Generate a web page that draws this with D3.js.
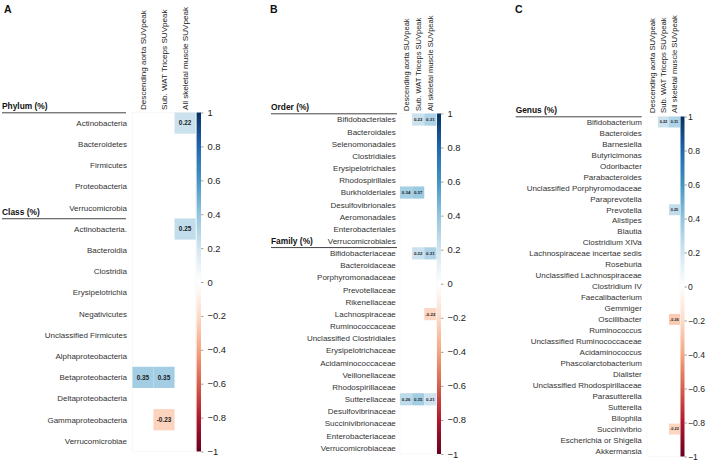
<!DOCTYPE html>
<html><head><meta charset="utf-8">
<script src="https://cdn.jsdelivr.net/npm/d3@7"></script>
<style>
body{margin:0;background:#fff;}
text{font-family:"Liberation Sans",Arial,Helvetica,sans-serif;}
</style></head>
<body>
<svg id="chart" width="708" height="462"></svg>
<script>
// ---------- DATA ----------
const columns = ["Descending aorta SUVpeak", "Sub. WAT Triceps SUVpeak", "All skeletal muscle SUVpeak"];

const phylumRows = ["Actinobacteria", "Bacteroidetes", "Firmicutes", "Proteobacteria", "Verrucomicrobia"];
const classRows = ["Actinobacteria.", "Bacteroidia", "Clostridia", "Erysipelotrichia", "Negativicutes",
  "Unclassified Firmicutes", "Alphaproteobacteria", "Betaproteobacteria", "Deltaproteobacteria",
  "Gammaproteobacteria", "Verrucomicrobiae"];
const orderRows = ["Bifidobacteriales", "Bacteroidales", "Selenomonadales", "Clostridiales", "Erysipelotrichales",
  "Rhodospirillales", "Burkholderiales", "Desulfovibrionales", "Aeromonadales", "Enterobacteriales", "Verrucomicrobiales"];
const familyRows = ["Bifidobacteriaceae", "Bacteroidaceae", "Porphyromonadaceae", "Prevotellaceae", "Rikenellaceae",
  "Lachnospiraceae", "Ruminococcaceae", "Unclassified Clostridiales", "Erysipelotrichaceae", "Acidaminococcaceae",
  "Veillonellaceae", "Rhodospirillaceae", "Sutterellaceae", "Desulfovibrinaceae", "Succinivibrionaceae",
  "Enterobacteriaceae", "Verrucomicrobiaceae"];
const genusRows = ["Bifidobacterium", "Bacteroides", "Barnesiella", "Butyricimonas", "Odoribacter", "Parabacteroides",
  "Unclassified Porphyromodaceae", "Paraprevotella", "Prevotella", "Alistipes", "Blautia", "Clostridium XIVa",
  "Lachnospiraceae incertae sedis", "Roseburia", "Unclassified Lachnospiraceae", "Clostridium IV", "Faecalibacterium",
  "Gemmiger", "Oscillibacter", "Ruminococcus", "Unclassified Ruminococcaceae", "Acidaminococcus",
  "Phascolarctobacterium", "Dialister", "Unclassified Rhodospirillaceae", "Parasutterella", "Sutterella", "Bilophila",
  "Succinivibrio", "Escherichia or Shigella", "Akkermansia"];

// significant correlations only (others blank): [row name, column index, r]
const panelAValues = [
  ["Actinobacteria", 2, 0.22],
  ["Actinobacteria.", 2, 0.25],
  ["Betaproteobacteria", 0, 0.35],
  ["Betaproteobacteria", 1, 0.35],
  ["Gammaproteobacteria", 1, -0.23]
];
const panelBValues = [
  ["Bifidobacteriales", 1, 0.22],
  ["Bifidobacteriales", 2, 0.31],
  ["Burkholderiales", 0, 0.34],
  ["Burkholderiales", 1, 0.37],
  ["Bifidobacteriaceae", 1, 0.22],
  ["Bifidobacteriaceae", 2, 0.31],
  ["Lachnospiraceae", 2, -0.22],
  ["Sutterellaceae", 0, 0.26],
  ["Sutterellaceae", 1, 0.35],
  ["Sutterellaceae", 2, 0.21]
];
const panelCValues = [
  ["Bifidobacterium", 1, 0.22],
  ["Bifidobacterium", 2, 0.31],
  ["Prevotella", 2, 0.25],
  ["Oscillibacter", 2, -0.26],
  ["Succinivibrio", 2, -0.22]
];
const colorbarTicks = [1, 0.8, 0.6, 0.4, 0.2, 0, -0.2, -0.4, -0.6, -0.8, -1];

// ---------- COLOR ----------
const stops = ["#67001F", "#B2182B", "#D6604D", "#F4A582", "#FDDBC7", "#FFFFFF",
               "#D1E5F0", "#92C5DE", "#4393C3", "#2166AC", "#053061"];
const color = d3.scaleLinear().domain(d3.range(11).map(i => -1 + i * 0.2)).range(stops).interpolate(d3.interpolateRgb);

const svg = d3.select("#chart");
const defs = svg.append("defs");
const grad = defs.append("linearGradient").attr("id", "cbar").attr("x1", 0).attr("y1", 0).attr("x2", 0).attr("y2", 1);
d3.range(0, 1.0001, 0.05).forEach(t => {
  grad.append("stop").attr("offset", t).attr("stop-color", color(1 - 2 * t));
});

function fmt(v) { return v < 0 ? "-" + Math.abs(v).toFixed(2) : v.toFixed(2); }

function panel(cfg) {
  const g = svg.append("g");
  const rows = cfg.groups.flatMap(gr => gr.rows);
  const y = d3.scaleBand().domain(rows).range([cfg.y0, cfg.y1]);
  const x = d3.scaleBand().domain(d3.range(columns.length)).range([cfg.x0, cfg.x1]);

  // panel letter
  g.append("text").attr("x", cfg.letterX).attr("y", 13).attr("font-size", 10.5)
    .attr("font-weight", "bold").attr("fill", "#111").text(cfg.letter);

  // column headers
  g.selectAll(".colh").data(columns).enter().append("text")
    .attr("transform", (d, i) => `translate(${x(i) + x.bandwidth() / 2},${cfg.headBottom}) rotate(-90)`)
    .attr("dy", "0.35em").attr("font-size", cfg.headSize).attr("fill", "#222").text(d => d);

  // blank cell background
  g.append("rect").attr("x", cfg.x0).attr("y", cfg.y0).attr("width", cfg.x1 - cfg.x0).attr("height", cfg.y1 - cfg.y0)
    .attr("fill", "#fff").attr("stroke", "#f3f3f3").attr("stroke-width", 0.6);

  // row labels
  g.selectAll(".rowl").data(rows).enter().append("text")
    .attr("x", cfg.labelX).attr("y", d => y(d) + y.bandwidth() / 2).attr("dy", "0.35em")
    .attr("text-anchor", "end").attr("font-size", 8).attr("fill", "#333").text(d => d);

  // group headings with underline
  cfg.groups.forEach(gr => {
    const top = y(gr.rows[0]);
    g.append("text").attr("x", cfg.headX).attr("y", top - 3.2).attr("font-size", 8.4)
      .attr("font-weight", "bold").attr("fill", "#111").text(gr.title);
    g.append("line").attr("x1", cfg.headX).attr("x2", cfg.lineX2).attr("y1", top + 0.3).attr("y2", top + 0.3)
      .attr("stroke", "#444").attr("stroke-width", 1);
  });

  // cells
  const cells = g.selectAll(".cell").data(cfg.values).enter().append("g");
  cells.append("rect").attr("x", d => x(d[1])).attr("y", d => y(d[0]))
    .attr("width", x.bandwidth()).attr("height", y.bandwidth()).attr("fill", d => color(d[2]));
  cells.append("text").attr("x", d => x(d[1]) + x.bandwidth() / 2).attr("y", d => y(d[0]) + y.bandwidth() / 2)
    .attr("dy", "0.35em").attr("text-anchor", "middle").attr("font-size", cfg.cellFont)
    .attr("font-weight", "bold").attr("fill", "#222").text(d => fmt(d[2]));

  // colorbar
  const cb = d3.scaleLinear().domain([1, -1]).range([cfg.y0, cfg.y1]);
  g.append("rect").attr("x", cfg.cbX).attr("y", cfg.y0).attr("width", cfg.cbW).attr("height", cfg.y1 - cfg.y0)
    .attr("fill", "url(#cbar)");
  const axis = d3.axisRight(cb).tickValues(colorbarTicks).tickSize(2.5).tickPadding(cfg.tickPad)
    .tickFormat(d => d === 0 ? "0" : d3.format("")(d).replace("-", "\u2212"));
  const ax = g.append("g").attr("transform", `translate(${cfg.cbX + cfg.cbW},0)`).call(axis);
  ax.select(".domain").remove();
  ax.selectAll(".tick line").attr("stroke", "#666").attr("stroke-width", 0.6);
  ax.selectAll(".tick text").attr("font-size", cfg.tickFont).attr("fill", "#222")
    .attr("font-family", "'Liberation Sans',Arial,sans-serif");
}

panel({
  letter: "A", letterX: 4,
  groups: [{ title: "Phylum (%)", rows: phylumRows }, { title: "Class (%)", rows: classRows }],
  values: panelAValues,
  x0: 132.4, x1: 195.6, y0: 112.5, y1: 451.5,
  labelX: 127, headX: 2, lineX2: 126, headBottom: 110, headSize: 8.1, cellFont: 6.4,
  cbX: 196.6, cbW: 4.4, tickPad: 4, tickFont: 9.4
});
panel({
  letter: "B", letterX: 270,
  groups: [{ title: "Order (%)", rows: orderRows }, { title: "Family (%)", rows: familyRows }],
  values: panelBValues,
  x0: 400, x1: 436.4, y0: 113.5, y1: 454,
  labelX: 395.8, headX: 271, lineX2: 397, headBottom: 111, headSize: 7.5, cellFont: 4.4,
  cbX: 437, cbW: 4, tickPad: 4, tickFont: 9.4
});
panel({
  letter: "C", letterX: 515,
  groups: [{ title: "Genus (%)", rows: genusRows }],
  values: panelCValues,
  x0: 647, x1: 680, y0: 116.5, y1: 456.5,
  labelX: 641.8, headX: 515.7, lineX2: 641.7, headBottom: 113, headSize: 7.7, cellFont: 3.9,
  cbX: 680.5, cbW: 4, tickPad: 1, tickFont: 8.6
});
</script>
</body></html>
